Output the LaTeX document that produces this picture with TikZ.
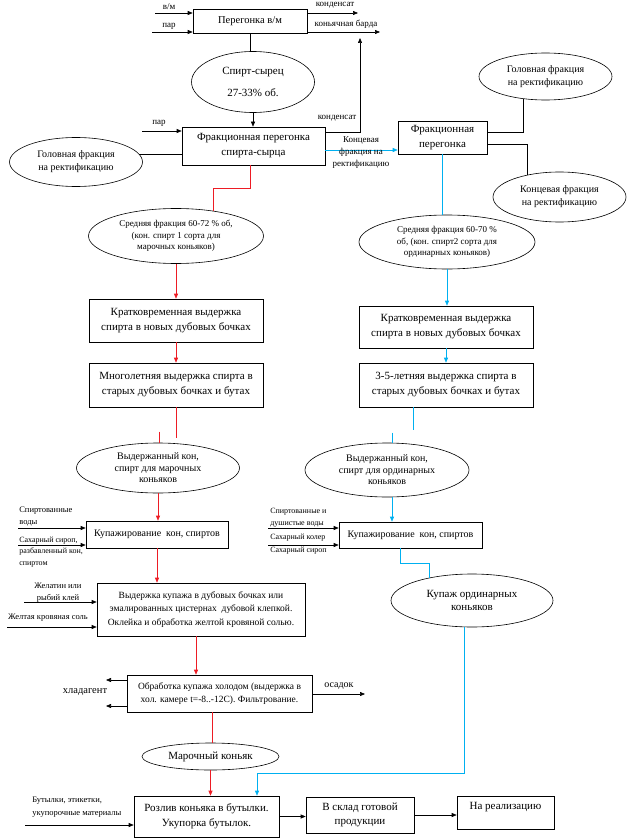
\documentclass[tikz,border=0pt]{standalone}
\usepackage{fontspec}
\setmainfont{Liberation Serif}
\usetikzlibrary{arrows.meta,shapes.geometric,calc,positioning}
\definecolor{redline}{RGB}{237,28,36}
\definecolor{blueline}{RGB}{0,176,240}

\begin{document}
\begin{tikzpicture}[x=1pt,y=-1pt,line width=0.6pt,
	box/.style={draw,rectangle,align=center,inner sep=1pt,font=\fontsize{11}{15}\selectfont},
	oval/.style={draw,ellipse,align=center,inner sep=0pt},
	lbl/.style={inner sep=0pt,align=left,font=\fontsize{9}{12}\selectfont},
	arr/.style={-{Triangle[length=5pt,width=4pt]}},
	redl/.style={draw=redline},
	redarr/.style={redl,arr},
	bluel/.style={draw=blueline},
	bluearr/.style={bluel,arr}]
\useasboundingbox (0,0) rectangle (638,840);

% top: distillation of wine material
\node[box,minimum width=114pt,minimum height=24pt,font=\fontsize{10.5}{13}\selectfont] (vm) at (250,21) {Перегонка в/м};
\coordinate (vmA) at (155,13);
\coordinate (vmB) at (152,32);
\coordinate (kondA) at (358,13);
\coordinate (barda) at (380,32);
\coordinate (kondB) at (360,38);
\node[lbl] at (169,7) {в/м};
\node[lbl] at (169,26) {пар};
\node[lbl] at (335,5) {конденсат};
\node[lbl] at (346,24) {коньячная барда};
\draw[arr] (vmA) -- (vmA -| vm.west);
\draw[arr] (vmB) -- (vmB -| vm.west);
\draw[arr] (vm.east |- kondA) -- (kondA);
\draw[arr] (vm.east |- barda) -- (barda);

\node[oval,minimum width=123pt,minimum height=61pt,font=\fontsize{11}{13}\selectfont] (syr) at (253,82) {Спирт-сырец\\[9pt]27-33\% об.};
\draw (vm.south) -- (vm.south |- syr.north);

% fractional distillation
\node[box,minimum width=143pt,minimum height=38pt] (frac) at (253.5,146) {Фракционная перегонка\\спирта-сырца};
\draw[arr] (syr.south) -- (syr.south |- frac.north);
\coordinate (parB) at (142,131);
\node[lbl] at (159,123) {пар};
\draw[arr] (parB) -- (parB -| frac.west);
\node[oval,minimum width=133pt,minimum height=49pt,font=\fontsize{10}{13}\selectfont] (headL) at (76,162) {Головная фракция\\на ректификацию};
\draw (headL.7) -- (headL.7 -| frac.west);
\node[lbl] at (337,118) {конденсат};
\draw[arr] (frac.east |- 0,132) -| (kondB);

\node[box,minimum width=89pt,minimum height=33pt] (fracR) at (442.5,137.5) {Фракционная\\перегонка};
\draw[bluearr] (frac.east |- 0,150) -- (fracR.west |- 0,150);
\node[lbl,align=center] at (361,153) {Концевая\\фракция на\\ректификацию};
\node[oval,minimum width=133pt,minimum height=47pt,font=\fontsize{10}{13}\selectfont] (headR) at (545.5,76.5) {Головная фракция\\на ректификацию};
\node[oval,minimum width=133pt,minimum height=50pt,font=\fontsize{10}{13}\selectfont] (tailR) at (559.5,197) {Концевая фракция\\на ректификацию};
\draw ($(headR.south)+(-22.5,-1.4)$) |- (fracR.east |- 0,132);
\draw (fracR.east |- 0,144) -| ($(tailR.north)+(-32.5,3.2)$);

% left branch: brand cognacs
\node[oval,minimum width=175pt,minimum height=55pt,font=\fontsize{9}{11.5}\selectfont] (midL) at (176,236) {Средняя фракция 60-72 \% об,\\(кон. спирт 1 сорта для\\марочных коньяков)};
\draw[redl] (frac.south) ++(-3.5,0) -- ++(0,23) -| ($(midL.north)+(37,3)$);
\node[box,minimum width=174pt,minimum height=43pt] (kvL) at (176,320.5) {Кратковременная выдержка\\спирта в новых дубовых бочках};
\node[box,minimum width=174pt,minimum height=44pt] (mnL) at (176,385) {Многолетняя выдержка спирта в\\старых дубовых бочках и бутах};
\draw[redarr] (midL) -- (kvL);
\draw[redarr] (kvL) -- (mnL);
\node[oval,minimum width=163pt,minimum height=50pt,font=\fontsize{10}{11.5}\selectfont] (vkL) at (158,468) {Выдержанный кон,\\спирт для марочных\\коньяков};
\draw[redl] (mnL.south) -- ++(0,31);
\draw[redl] ($(vkL.north)+(1,-11)$) -- ($(vkL.north)+(1,0.2)$);

\node[box,minimum width=142pt,minimum height=27pt,font=\fontsize{10}{12}\selectfont] (kupL) at (157,534.5) {Купажирование\ \ кон, спиртов};
\draw[redarr] (vkL.south) -- (vkL.south |- kupL.north);
\coordinate (kupLA) at (18,528);
\coordinate (kupLB) at (18,545);
\node[lbl,anchor=west,font=\fontsize{8.5}{12}\selectfont] at (19,517) {Спиртованные\\воды};
\node[lbl,anchor=west,font=\fontsize{8}{11.5}\selectfont] at (19,552) {Сахарный сироп,\\разбавленный кон,\\спиртом};
\draw[arr] (kupLA) -- (kupLA -| kupL.west);
\draw[arr] (kupLB) -- (kupLB -| kupL.west);

\node[box,minimum width=208pt,minimum height=53pt,font=\fontsize{9.5}{13.5}\selectfont] (vdL) at (201,609.5) {Выдержка купажа в дубовых бочках или\\эмалированных цистернах\ \ дубовой клепкой.\\Оклейка и обработка желтой кровяной солью.};
\draw[redarr] (kupL.south) -- (kupL.south |- vdL.north);
\coordinate (vdLA) at (24,602);
\coordinate (vdLB) at (7,627);
\node[lbl,align=center,font=\fontsize{8.5}{12}\selectfont] at (58,593) {Желатин или\\рыбий клей};
\node[lbl,font=\fontsize{8.5}{12}\selectfont] at (48,618) {Желтая кровяная соль};
\draw[arr] (vdLA) -- (vdLA -| vdL.west);
\draw[arr] (vdLB) -- (vdLB -| vdL.west);

\node[box,minimum width=185pt,minimum height=37pt,font=\fontsize{9.5}{13}\selectfont] (cold) at (219.5,693.5) {Обработка купажа холодом (выдержка в\\хол. камере t=-8..-12С). Фильтрование.};
\draw[redarr] ([xshift=-5pt]vdL.south) -- ([xshift=-5pt]vdL.south |- cold.north);
\coordinate (hlA) at (106,680);
\coordinate (hlB) at (106,706);
\coordinate (osad) at (365,694);
\draw[arr] (hlA -| cold.west) -- (hlA);
\draw[arr] (hlB -| cold.west) -- (hlB);
\node[lbl,font=\fontsize{10.5}{12}\selectfont] at (85,692) {хладагент};
\draw[arr] (cold.east |- osad) -- (osad);
\node[lbl,font=\fontsize{10}{12}\selectfont] at (339,686) {осадок};

\node[oval,minimum width=137pt,minimum height=27pt,font=\fontsize{11}{13}\selectfont] (mark) at (210.5,756.5) {Марочный коньяк};
\draw[redl] ([xshift=-7.5pt]cold.south) -- ([xshift=-7.5pt]cold.south |- mark.north);

% bottling
\node[box,minimum width=145pt,minimum height=41pt] (razl) at (206.5,816.5) {Розлив коньяка в бутылки.\\Укупорка бутылок.};
\draw[redarr] (mark.south) -- (mark.south |- razl.north);
\coordinate (razlA) at (25,825);
\node[lbl,anchor=west,font=\fontsize{8.5}{13}\selectfont] at (32,807) {Бутылки, этикетки,\\укупорочные материалы};
\draw[arr] (razlA) -- (razlA -| razl.west);
\node[box,minimum width=108pt,minimum height=36pt,font=\fontsize{11}{14}\selectfont] (sklad) at (360,815) {В склад готовой\\продукции};
\node[box,minimum width=97pt,minimum height=33pt,font=\fontsize{11}{14}\selectfont] (real) at (505.5,812.5) {На реализацию\\~};
\draw[arr] (razl.east) -- (razl.east -| sklad.west);
\draw[arr] (sklad.east) -- (sklad.east -| real.west);

% right branch: ordinary cognacs
\node[oval,minimum width=176pt,minimum height=54pt,font=\fontsize{9}{11.5}\selectfont] (midR) at (447,242) {Средняя фракция 60-70 \%\\об, (кон. спирт2 сорта для\\ординарных коньяков)};
\draw[bluel] (fracR.south) -- (fracR.south |- midR.north);
\node[box,minimum width=174pt,minimum height=42pt] (kvR) at (446,327) {Кратковременная выдержка\\спирта в новых дубовых бочках};
\node[box,minimum width=174pt,minimum height=44pt] (mnR) at (446,385) {3-5-летняя выдержка спирта в\\старых дубовых бочках и бутах};
\draw[bluearr] (midR.south) -- (midR.south |- kvR.north);
\draw[bluearr] (kvR) -- (mnR);
\node[oval,minimum width=164pt,minimum height=54pt,font=\fontsize{10}{11.5}\selectfont] (vkR) at (387,470) {Выдержанный кон,\\спирт для ординарных\\коньяков};
\draw[bluel] ([xshift=-33pt]mnR.south) -- ++(0,23);
\draw[bluel] ($(vkR.north)+(5,-10)$) -- ($(vkR.north)+(5,0.3)$);

\node[box,minimum width=143pt,minimum height=26pt,font=\fontsize{10}{12}\selectfont] (kupR) at (410.5,535) {Купажирование\ \ кон, спиртов};
\draw[bluearr] ([xshift=5pt]vkR.south) -- ([xshift=5pt]vkR.south |- kupR.north);
\coordinate (kupRA) at (268,528);
\coordinate (kupRB) at (268,545);
\node[lbl,anchor=west,font=\fontsize{8}{12}\selectfont] at (270,518) {Спиртованные и\\душистые воды};
\node[lbl,anchor=west,font=\fontsize{8}{10}\selectfont] at (270,538) {Сахарный колер};
\node[lbl,anchor=west,font=\fontsize{8}{10}\selectfont] at (270,551) {Сахарный сироп};
\draw[arr] (kupRA) -- (kupRA -| kupR.west);
\draw[arr] (kupRB) -- (kupRB -| kupR.west);

\node[oval,minimum width=162pt,minimum height=53pt,font=\fontsize{11}{13.5}\selectfont] (kupO) at (472,600.5) {Купаж ординарных\\коньяков};
\draw[bluel] ([xshift=-10.5pt]kupR.south) -- ++(0,15) -| ($(kupO.north)+(-43,4)$);
\draw[bluearr] ([xshift=-8pt]kupO.south) -- ++(0,146) -| ([xshift=50.5pt]razl.north);

\end{tikzpicture}
\end{document}
